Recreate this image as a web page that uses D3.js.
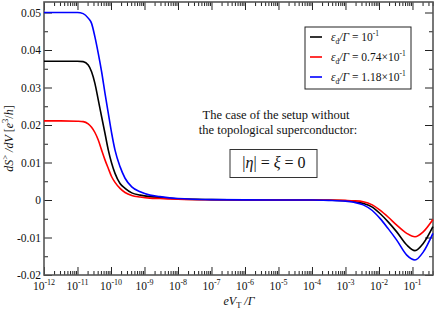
<!DOCTYPE html>
<html><head><meta charset="utf-8">
<script src="https://cdn.jsdelivr.net/npm/d3@7"></script>
<style>
body{margin:0;background:#fff;}
svg{display:block;font-family:"Liberation Serif","Times New Roman",serif;}
</style></head>
<body><svg id="c" width="436" height="313"></svg>
<script>
// ---- data (x given as log10 of eV_T/Γ) ----
const log10EV = [-12,-11.5,-11,-10.83,-10.68,-10.58,-10.48,-10.38,-10.28,-10.18,-10.08,-9.98,-9.88,-9.73,-9.58,-9.38,-9.13,-8.84,-8.54,-8,-7,-6,-5,-4,-3.5,-3,-2.75,-2.47,-2.2,-1.97,-1.72,-1.47,-1.17,-0.925,-0.68,-0.39];
const black1 = [0.0370,0.0370,0.0370,0.0369,0.0360,0.0342,0.0311,0.0267,0.0222,0.0178,0.0133,0.0098,0.0071,0.0044,0.0031,0.0019,0.0013,0.0009,0.0007,0.0003,0.0001,0.00002,0,0,-0.00005,-0.0002,-0.0004,-0.0009,-0.0019,-0.0036,-0.0059,-0.0085,-0.0120,-0.0135,-0.0116,-0.0071];
const red074 = [0.0211,0.0211,0.0210,0.0209,0.0203,0.0194,0.0180,0.0160,0.0133,0.0107,0.0084,0.0062,0.0047,0.0031,0.0020,0.0012,0.0008,0.0005,0.0004,0.0002,0.00005,0.00001,0,0,0,-0.0001,-0.0002,-0.00045,-0.0013,-0.0027,-0.0046,-0.0067,-0.0089,-0.0098,-0.0085,-0.0052];
const blue118 = [0.0500,0.0500,0.0500,0.0497,0.0485,0.0471,0.0435,0.0391,0.0342,0.0285,0.0231,0.0178,0.0133,0.0089,0.0058,0.0035,0.0022,0.0013,0.0009,0.0004,0.0001,0.00003,0,0,-0.0001,-0.0003,-0.0006,-0.0013,-0.0028,-0.0049,-0.0077,-0.0107,-0.0147,-0.0160,-0.0139,-0.0089];
const seriesNames = ["black1","red074","blue118"];
const seriesColors = ["#000000","#ff0000","#0000ff"];
const legendMantissa = ["", "0.74×", "1.18×"];
const xMajorExp = [-12,-11,-10,-9,-8,-7,-6,-5,-4,-3,-2,-1];
const yTicks = [-0.02,-0.01,0,0.01,0.02,0.03,0.04,0.05];
const yTickLabels = ["-0.02","-0.01","0","0.01","0.02","0.03","0.04","0.05"];
const yMinor = [-0.015,-0.005,0.005,0.015,0.025,0.035,0.045];
const xDomain = [1e-12, 0.41];
const yDomain = [-0.02, 0.0528];

// ---- layout ----
const L = 44, R = 433, T = 2, B = 275;
const svg = d3.select("#c");
const x = d3.scaleLog().domain(xDomain).range([L, R]);
const y = d3.scaleLinear().domain(yDomain).range([B, T]);

const majorVals = xMajorExp.map(e => Math.pow(10, e));
const minorVals = [];
xMajorExp.forEach(e => { for (let m = 2; m <= 9; m++) { const v = m * Math.pow(10, e); if (v <= xDomain[1]) minorVals.push(v); } });

function styleAxis(g){ g.select(".domain").remove(); g.selectAll("line").attr("stroke","#222").attr("stroke-width",1); }
svg.append("g").attr("transform",`translate(0,${B})`).call(d3.axisBottom(x).tickValues(majorVals).tickSize(-8).tickFormat("")).call(styleAxis);
svg.append("g").attr("transform",`translate(0,${B})`).call(d3.axisBottom(x).tickValues(minorVals).tickSize(-4).tickFormat("")).call(styleAxis);
svg.append("g").attr("transform",`translate(0,${T})`).call(d3.axisTop(x).tickValues(majorVals).tickSize(-8).tickFormat("")).call(styleAxis);
svg.append("g").attr("transform",`translate(0,${T})`).call(d3.axisTop(x).tickValues(minorVals).tickSize(-4).tickFormat("")).call(styleAxis);
svg.append("g").attr("transform",`translate(${L},0)`).call(d3.axisLeft(y).tickValues(yTicks).tickSize(-8).tickFormat("")).call(styleAxis);
svg.append("g").attr("transform",`translate(${L},0)`).call(d3.axisLeft(y).tickValues(yMinor).tickSize(-4).tickFormat("")).call(styleAxis);
svg.append("g").attr("transform",`translate(${R},0)`).call(d3.axisRight(y).tickValues(yTicks).tickSize(-8).tickFormat("")).call(styleAxis);
svg.append("g").attr("transform",`translate(${R},0)`).call(d3.axisRight(y).tickValues(yMinor).tickSize(-4).tickFormat("")).call(styleAxis);

// frame
svg.append("rect").attr("x",L).attr("y",T).attr("width",R-L).attr("height",B-T)
  .attr("fill","none").attr("stroke","#555").attr("stroke-width",1.6);

// y tick labels
svg.append("g").selectAll("text").data(yTicks).join("text")
  .attr("x", L-3).attr("y", d => y(d)).attr("dy","0.35em")
  .attr("text-anchor","end").attr("font-size",11.5).attr("fill","#111")
  .text((d,i) => yTickLabels[i]);

// x tick labels 10^e
const xl = svg.append("g").selectAll("text").data(xMajorExp).join("text")
  .attr("x", e => x(Math.pow(10,e))).attr("y", 290)
  .attr("text-anchor","middle").attr("font-size",11.5).attr("fill","#111");
xl.append("tspan").text("10");
xl.append("tspan").attr("dy",-5).attr("font-size",8).text(e => String(e));

// rich text helper
function rich(sel, parts){
  let shift = 0;
  parts.forEach(p => {
    const t = sel.append("tspan").text(p.t);
    if (p.i) t.attr("font-style","italic");
    let target = p.sub ? 3 : (p.sup ? -5 : 0);
    if (target !== shift) { t.attr("dy", target - shift); shift = target; }
    if (p.sub || p.sup) t.attr("font-size", p.fs || 8);
  });
}

// curves
const line = d3.line().curve(d3.curveMonotoneX)
  .x((d,i) => x(Math.pow(10, log10EV[i]))).y(d => y(d));
const seriesData = [black1, red074, blue118];
svg.append("g").selectAll("path").data(seriesData).join("path")
  .attr("d", d => line(d)).attr("fill","none")
  .attr("stroke", (d,i) => seriesColors[i]).attr("stroke-width",1.6);

// legend
svg.append("rect").attr("x",305).attr("y",27).attr("width",106).attr("height",62)
  .attr("fill","#fff").attr("stroke","#222").attr("stroke-width",1);
seriesNames.forEach((n,i) => {
  const yy = 37 + i*20;
  svg.append("line").attr("x1",310).attr("x2",322).attr("y1",yy).attr("y2",yy)
    .attr("stroke",seriesColors[i]).attr("stroke-width",1.6);
  const t = svg.append("text").attr("x",331).attr("y",yy+4).attr("font-size",11.5).attr("fill","#111");
  rich(t, [{t:"ε",i:true},{t:"d",sub:true,fs:7.5},{t:"/Γ",i:true},{t:" = "+legendMantissa[i]+"10"},{t:"-1",sup:true,fs:7.5}]);
});

// annotation
svg.append("text").attr("x",276).attr("y",119).attr("text-anchor","middle").attr("font-size",12.5).attr("fill","#111")
  .text("The case of the setup without");
svg.append("text").attr("x",278).attr("y",134).attr("text-anchor","middle").attr("font-size",12.5).attr("fill","#111")
  .text("the topological superconductor:");
svg.append("rect").attr("x",230).attr("y",149.5).attr("width",87).attr("height",28)
  .attr("fill","none").attr("stroke","#333").attr("stroke-width",1);
const eq = svg.append("text").attr("x",274).attr("y",167.5).attr("text-anchor","middle").attr("font-size",16).attr("fill","#111");
rich(eq, [{t:"|"},{t:"η",i:true},{t:"| = "},{t:"ξ",i:true},{t:" = 0"}]);

// axis titles
const xt = svg.append("text").attr("x",239).attr("y",305).attr("text-anchor","middle").attr("font-size",12).attr("fill","#111");
rich(xt, [{t:"eV",i:true},{t:"T",sub:true,fs:8.5},{t:" /Γ",i:true}]);
const yt = svg.append("text").attr("transform","translate(13,138.5) rotate(-90)").attr("text-anchor","middle").attr("font-size",12).attr("fill","#111");
rich(yt, [{t:"dS",i:true},{t:">",sup:true,fs:8.5},{t:" /dV",i:true},{t:"  ["},{t:"e",i:true},{t:"3",sup:true,fs:8.5},{t:"/"},{t:"h",i:true},{t:"]"}]);
</script>
</body></html>
